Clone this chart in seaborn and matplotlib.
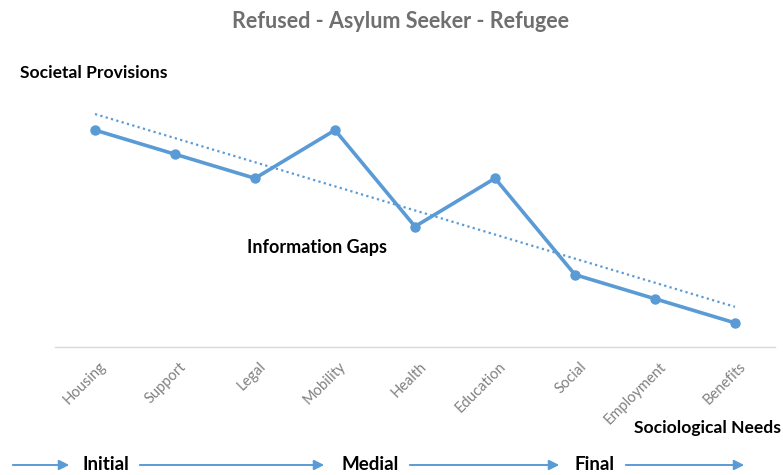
import numpy as np
import pandas as pd
import matplotlib
matplotlib.use("Agg")
import matplotlib.pyplot as plt
import matplotlib.transforms as mtransforms
import seaborn as sns

categories = ["Housing", "Support", "Legal", "Mobility", "Health",
              "Education", "Social", "Employment", "Benefits"]
values = [9, 8, 7, 9, 5, 7, 3, 2, 1]
stages = ["Initial", "Medial", "Final"]

sns.set_theme(style="white")
plt.rcParams["font.family"] = ["Lato", "DejaVu Sans"]

blue = "#5B9BD5"
df = pd.DataFrame({"idx": np.arange(len(categories)), "value": values})

fig = plt.figure(figsize=(7.83, 4.75), dpi=100)
ax = fig.add_axes([55 / 783, (475 - 347) / 475, 720 / 783, 241 / 475])

sns.regplot(data=df, x="idx", y="value", scatter=False, ci=None, ax=ax,
            line_kws=dict(color=blue, lw=1.6, ls=(0, (1, 1.5))))
sns.lineplot(data=df, x="idx", y="value", ax=ax, color=blue, lw=2.6,
             marker="o", markersize=7.5, markeredgewidth=0)

ax.set_xlim(-0.5, len(categories) - 0.5)
ax.set_ylim(0, 10)
ax.set_xticks(df["idx"])
ax.set_xticklabels(categories, rotation=45, ha="right", rotation_mode="anchor",
                   color="#808080", fontsize=10.5)
ax.tick_params(axis="x", length=0, pad=9)
offset = mtransforms.ScaledTranslation(4 / 100, 0, fig.dpi_scale_trans)
for lab in ax.get_xticklabels():
    lab.set_transform(lab.get_transform() + offset)
ax.set_yticks([])
ax.set_xlabel("")
ax.set_ylabel("")
for s in ["top", "left", "right"]:
    ax.spines[s].set_visible(False)
ax.spines["bottom"].set_color("#d9d9d9")
ax.spines["bottom"].set_linewidth(1)

def px(x, y):
    return x / 783, 1 - y / 475

fig.text(*px(400, 22), "Refused - Asylum Seeker - Refugee", ha="center", va="center",
         fontsize=15.5, fontweight="bold", color="#6f6f6f")
fig.text(*px(20, 73), "Societal Provisions", ha="left", va="center",
         fontsize=12.6, fontweight="bold", color="black")
fig.text(*px(247, 248), "Information Gaps", ha="left", va="center",
         fontsize=13, fontweight="bold", color="black")
fig.text(*px(781, 428), "Sociological Needs", ha="right", va="center",
         fontsize=12.6, fontweight="bold", color="black")

label_x = [106, 370, 594]
for lx, s in zip(label_x, stages):
    fig.text(*px(lx, 465), s, ha="center", va="center", fontsize=13.5,
             fontweight="bold", color="black")

arrows = [(10, 72), (137, 327), (407, 562), (623, 747)]
for x0, x1 in arrows:
    fig.add_artist(matplotlib.patches.FancyArrowPatch(
        px(x0, 465), px(x1, 465), transform=fig.transFigure,
        arrowstyle="-|>,head_length=6,head_width=3", color=blue, lw=1.4))

fig.savefig("out.png", dpi=100)
